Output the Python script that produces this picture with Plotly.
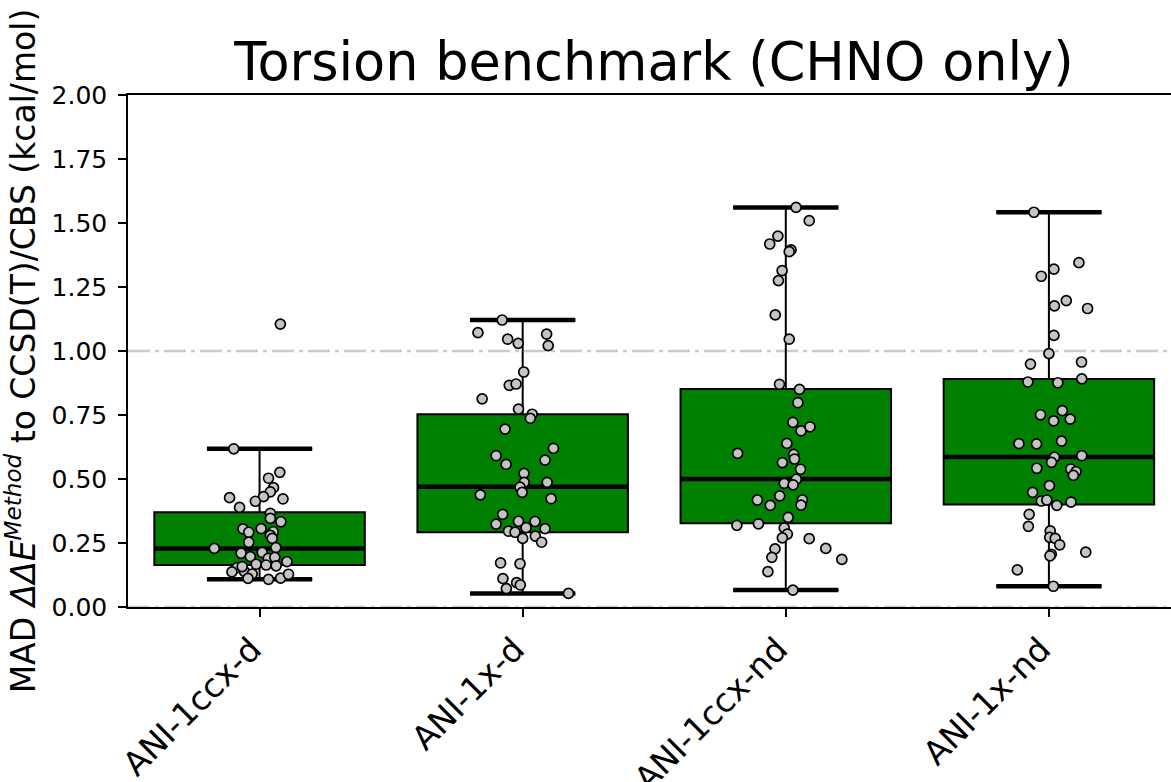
import plotly.graph_objects as go

# ---------------- data ----------------
categories = ["ANI-1ccx-d", "ANI-1x-d", "ANI-1ccx-nd", "ANI-1x-nd"]

# box statistics
q1 = [0.164, 0.292, 0.327, 0.400]
median = [0.229, 0.470, 0.500, 0.586]
q3 = [0.370, 0.753, 0.852, 0.891]
whisker_low = [0.108, 0.053, 0.066, 0.081]
whisker_high = [0.618, 1.121, 1.561, 1.542]

# individual molecule MADs (strip points) and their horizontal jitter
mad_ccx_d = [1.105, 0.618, 0.526, 0.503, 0.466, 0.450, 0.431, 0.427, 0.422, 0.413,
             0.389, 0.366, 0.346, 0.333, 0.305, 0.306, 0.292, 0.294, 0.280, 0.268,
             0.253, 0.229, 0.232, 0.210, 0.213, 0.197, 0.190, 0.194, 0.177, 0.167,
             0.164, 0.161, 0.154, 0.137, 0.138, 0.129, 0.112, 0.108, 0.113, 0.128,
             0.158]
jit_ccx_d = [0.079, -0.098, 0.077, 0.034, 0.053, 0.041, 0.015, -0.114, 0.089, -0.016,
             -0.076, 0.041, 0.041, 0.081, -0.063, 0.006, -0.041, 0.052, 0.041, 0.048,
             -0.041, -0.172, 0.062, -0.070, 0.010, -0.035, 0.033, 0.058, 0.104, -0.013,
             0.025, 0.063, -0.086, -0.105, -0.057, -0.028, -0.044, 0.034, 0.080, 0.110,
             -0.066]

mad_x_d = [1.121, 1.072, 1.066, 1.046, 1.030, 1.021, 0.918, 0.866, 0.871, 0.813,
           0.773, 0.753, 0.737, 0.695, 0.620, 0.591, 0.574, 0.557, 0.522, 0.487,
           0.487, 0.468, 0.448, 0.438, 0.423, 0.362, 0.324, 0.335, 0.334, 0.310,
           0.306, 0.296, 0.292, 0.268, 0.277, 0.253, 0.172, 0.169, 0.111, 0.095,
           0.086, 0.072, 0.053]
jit_x_d = [-0.078, -0.170, 0.091, -0.057, -0.017, 0.097, 0.004, -0.051, -0.025, -0.154,
           -0.016, 0.036, 0.029, -0.067, 0.117, -0.101, 0.085, -0.063, 0.005, 0.006,
           0.093, -0.010, -0.002, -0.161, 0.108, -0.076, -0.101, -0.016, 0.047, 0.013,
           0.085, -0.054, -0.029, 0.000, 0.048, 0.072, -0.084, -0.010, -0.075, -0.023,
           -0.009, -0.062, 0.174]

mad_ccx_nd = [1.561, 1.509, 1.449, 1.418, 1.395, 1.388, 1.314, 1.275, 1.141, 1.046,
              0.870, 0.850, 0.798, 0.721, 0.688, 0.704, 0.639, 0.600, 0.596, 0.578,
              0.564, 0.538, 0.499, 0.483, 0.477, 0.434, 0.418, 0.418, 0.397, 0.398,
              0.350, 0.319, 0.325, 0.309, 0.285, 0.270, 0.267, 0.229, 0.227, 0.194,
              0.186, 0.138, 0.066]
jit_ccx_nd = [0.039, 0.089, -0.030, -0.061, 0.020, 0.013, -0.014, -0.028, -0.040, 0.013,
              -0.024, 0.052, 0.046, 0.027, 0.058, 0.092, 0.004, -0.183, 0.030, 0.033,
              -0.013, 0.056, 0.040, -0.006, 0.028, -0.023, -0.108, 0.063, -0.059, 0.058,
              0.009, -0.186, -0.104, -0.006, 0.006, -0.013, 0.089, 0.152, -0.041, -0.053,
              0.213, -0.068, 0.027]

mad_x_nd = [1.542, 1.345, 1.320, 1.292, 1.197, 1.176, 1.166, 1.061, 0.990, 0.949,
            0.957, 0.879, 0.876, 0.891, 0.751, 0.767, 0.727, 0.734, 0.638, 0.637,
            0.648, 0.591, 0.585, 0.565, 0.542, 0.539, 0.529, 0.514, 0.474, 0.448,
            0.414, 0.418, 0.397, 0.410, 0.362, 0.315, 0.297, 0.272, 0.268, 0.243,
            0.214, 0.206, 0.200, 0.145, 0.081]
jit_x_nd = [-0.057, 0.114, 0.019, -0.029, 0.066, 0.021, 0.147, 0.019, 0.000, -0.070,
            0.124, -0.080, 0.034, 0.125, -0.032, 0.051, 0.018, 0.081, -0.114, -0.047,
            0.048, 0.125, 0.021, 0.010, -0.046, 0.083, 0.103, 0.093, 0.002, -0.062,
            -0.029, -0.008, 0.030, 0.084, -0.075, -0.078, 0.005, 0.003, 0.024, 0.041,
            0.140, 0.009, 0.004, -0.120, 0.017]

point_values = [mad_ccx_d, mad_x_d, mad_ccx_nd, mad_x_nd]
point_jitter = [jit_ccx_d, jit_x_d, jit_ccx_nd, jit_x_nd]

y_ticks = [0.0, 0.25, 0.5, 0.75, 1.0, 1.25, 1.5, 1.75, 2.0]
reference_level = 1.0

# ---------------- styling ----------------
FONT = "DejaVu Sans"
BOX_WIDTH = 0.8
CAP_HALF = 0.2
MED_HALF = 0.4

positions = list(range(len(categories)))

fig = go.Figure()

# boxes
fig.add_trace(go.Box(
    x=positions, q1=q1, median=median, q3=q3,
    lowerfence=whisker_low, upperfence=whisker_high,
    width=BOX_WIDTH, whiskerwidth=0.5, boxpoints=False,
    fillcolor="#008000", line=dict(color="black", width=2),
    hoverinfo="skip", showlegend=False,
))

# thick median lines
mx, my = [], []
for p, m in zip(positions, median):
    mx += [p - MED_HALF, p + MED_HALF, None]
    my += [m, m, None]
fig.add_trace(go.Scatter(x=mx, y=my, mode="lines",
                         line=dict(color="black", width=4.5),
                         hoverinfo="skip", showlegend=False))

# thick whisker caps
cx, cy = [], []
for p, lo, hi in zip(positions, whisker_low, whisker_high):
    cx += [p - CAP_HALF, p + CAP_HALF, None, p - CAP_HALF, p + CAP_HALF, None]
    cy += [lo, lo, None, hi, hi, None]
fig.add_trace(go.Scatter(x=cx, y=cy, mode="lines",
                         line=dict(color="black", width=4.5),
                         hoverinfo="skip", showlegend=False))

# strip points
for p, vals, jit in zip(positions, point_values, point_jitter):
    fig.add_trace(go.Scatter(
        x=[p + j for j in jit], y=vals, mode="markers",
        marker=dict(size=10, color="#c4c4c4",
                    line=dict(color="black", width=1.7)),
        showlegend=False,
    ))

# dash-dot reference lines
for level in (0.0, reference_level):
    fig.add_shape(type="line", xref="paper", x0=0, x1=1, yref="y",
                  y0=level, y1=level, layer="below",
                  line=dict(color="#cccccc", width=2.5, dash="22px,5px,4px,5px"))

fig.update_layout(
    width=1171, height=782,
    margin=dict(l=128, r=0, t=95, b=175, autoexpand=False),
    paper_bgcolor="white", plot_bgcolor="white",
    font=dict(family=FONT, color="black"),
    title=dict(text="Torsion benchmark (CHNO only)",
               font=dict(family=FONT, size=52.5, color="black"),
               x=654 / 1171, xanchor="center", xref="container",
               y=1 - 62 / 782, yanchor="middle", yref="container"),
    showlegend=False,
)

fig.update_xaxes(
    range=[-0.5, 3.464], automargin=False,
    tickmode="array", tickvals=positions, ticktext=categories,
    tickangle=-45, tickfont=dict(family=FONT, size=33, color="black"),
    ticks="outside", ticklen=8, tickwidth=1.5, tickcolor="black",
    ticklabelshift=-8,
    showline=True, linecolor="black", linewidth=1.5, mirror=True,
    showgrid=False, zeroline=False,
)

fig.update_yaxes(
    range=[0, 2.0], automargin=False,
    tickmode="array", tickvals=y_ticks, tickformat=".2f",
    tickfont=dict(family=FONT, size=25, color="black"),
    ticks="outside", ticklen=8, tickwidth=1.5, tickcolor="black",
    ticklabelstandoff=6,
    showline=True, linecolor="black", linewidth=1.5, mirror=False,
    showgrid=False, zeroline=False,
    title=dict(text="MAD <i>ΔΔE</i><sup><i>Method</i></sup> to CCSD(T)/CBS (kcal/mol)",
               font=dict(family=FONT, size=33, color="black"), standoff=10),
)

fig.write_html("out.html", config={"displayModeBar": False},
               post_script="document.body.style.margin='0px';")
